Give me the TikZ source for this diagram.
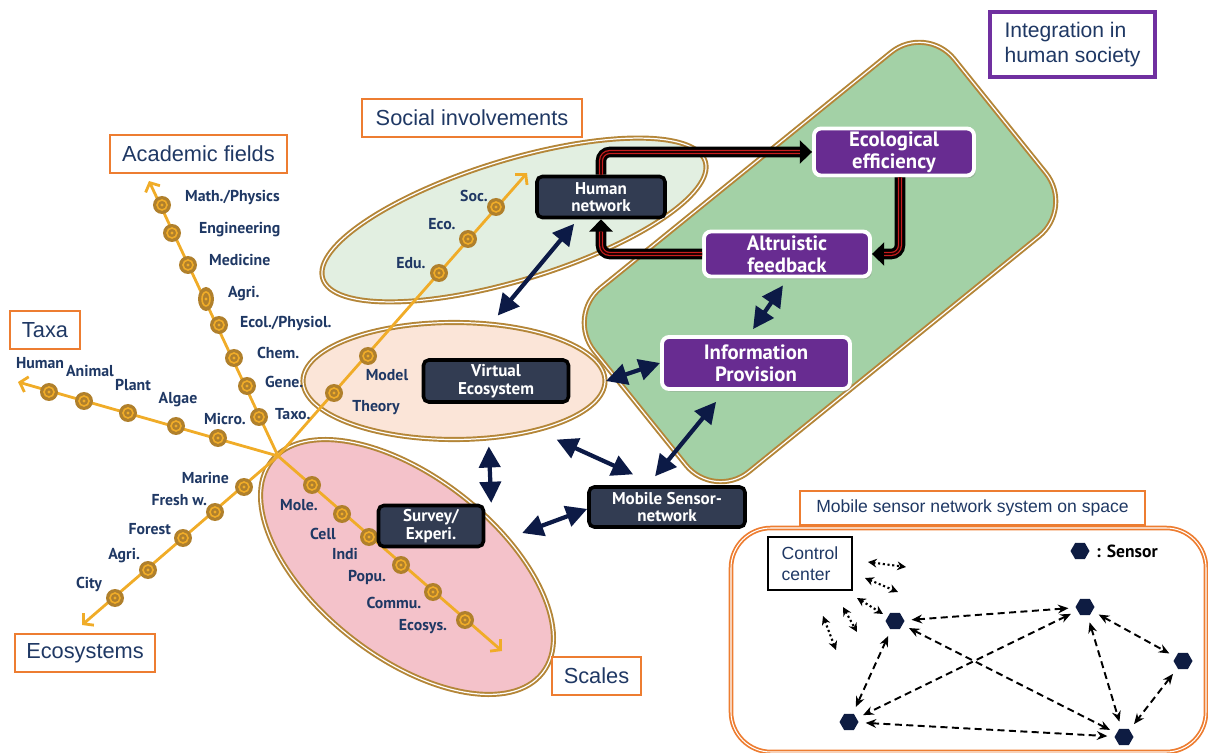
\documentclass[tikz,border=0pt]{standalone}
\usepackage{fontspec}
\setmainfont{Liberation Sans}
\newfontfamily\lblfont{PT Sans}
\usetikzlibrary{arrows.meta,shapes.geometric,shadows}

\definecolor{navytext}{RGB}{31,56,100}
\definecolor{axisorange}{RGB}{240,172,40}
\definecolor{beadbrown}{RGB}{176,128,44}
\definecolor{ringbrown}{RGB}{180,134,56}
\definecolor{labelorange}{RGB}{237,125,49}
\definecolor{socialfill}{RGB}{226,239,225}
\definecolor{virtfill}{RGB}{251,229,216}
\definecolor{scalefill}{RGB}{244,194,202}
\definecolor{greenfill}{RGB}{163,209,166}
\definecolor{boxnavy}{RGB}{50,60,82}
\definecolor{boxpurple}{RGB}{104,44,145}
\definecolor{arrownavy}{RGB}{12,26,70}
\definecolor{loopred}{RGB}{200,30,30}
\definecolor{intpurple}{RGB}{112,48,160}
\definecolor{sensornavy}{RGB}{14,28,66}

\newcommand\pxu{0.02cm} % one pixel of the original figure
\newcommand\looppath[1]{%
  \draw[loopouter] #1;
  \draw[loopinner] #1;
  \draw[loopcore] #1;}

\tikzset{
  bead/.pic={
    \fill[beadbrown] (0,0) circle [radius=9*\pxu];
    \draw[axisorange, line width=0.9pt] (0,0) circle [radius=5*\pxu];
    \fill[axisorange] (0,0) circle [radius=1.6*\pxu];
  },
  loopouter/.style={draw=black, line width=6pt, rounded corners=5pt,
    -{Triangle[length=7pt,width=13pt]}},
  loopinner/.style={draw=loopred, line width=2.4pt, rounded corners=5pt, shorten >=7pt},
  loopcore/.style={draw=black!85!red, line width=1pt, rounded corners=5pt, shorten >=7pt},
}

\begin{document}
\begin{tikzpicture}[x=0.02cm, y=-0.02cm,
  axisline/.style={draw=axisorange, line width=1.6pt, -{Straight Barb[length=4pt,width=9pt]}},
  lbl/.style={text=navytext, font=\lblfont\bfseries\fontsize{9}{10}\selectfont, inner sep=1pt},
  titlebox/.style={draw=labelorange, line width=1.5pt, fill=white, text=navytext,
    font=\fontsize{12.4}{14}\selectfont, minimum height=38*\pxu, inner sep=0pt},
  ringell/.style={ellipse, draw=ringbrown, line width=1.1pt, double=white,
    double distance=0.7pt, inner sep=0pt},
  darkbox/.style={draw=black, line width=2pt, fill=boxnavy, rounded corners=3pt,
    text=white, align=center, inner sep=0pt,
    font=\lblfont\bfseries\fontsize{9.7}{10}\selectfont},
  purplebox/.style={draw=white, line width=2.2pt, fill=boxpurple, rounded corners=4pt,
    text=white, align=center, inner sep=0pt,
    font=\lblfont\bfseries\fontsize{11.8}{12.5}\selectfont,
    drop shadow={opacity=0.35, shadow xshift=1pt, shadow yshift=-1.5pt}},
  bigarrow/.style={draw=arrownavy, line width=2.4pt,
    {Triangle[length=12pt,width=12pt]}-{Triangle[length=12pt,width=12pt]}},
  sensor/.style={regular polygon, regular polygon sides=6, fill=sensornavy,
    minimum size=19*\pxu, inner sep=0pt},
  netlink/.style={draw=black, line width=1.1pt, dash pattern=on 4pt off 2.5pt,
    {Stealth[length=6pt,width=5pt]}-{Stealth[length=6pt,width=5pt]},
    shorten <=4pt, shorten >=4pt},
  ctrllink/.style={draw=black, line width=1.2pt, dash pattern=on 1.2pt off 1.5pt,
    {Stealth[length=5pt,width=5pt]}-{Stealth[length=5pt,width=5pt]}}]

  \useasboundingbox (0,0) rectangle (1208,753);

  % ellipses of the three views
  \node[ringell, fill=socialfill, minimum width=400*\pxu, minimum height=120*\pxu,
    rotate=17] (socialell) at (514,220) {};
  \node[ringell, fill=virtfill, minimum width=302*\pxu, minimum height=117*\pxu]
    (virtell) at (454,381) {};
  \node[ringell, fill=scalefill, minimum width=344*\pxu, minimum height=180*\pxu,
    rotate=-38] (scaleell) at (407,567) {};

  % integration region
  \draw[fill=greenfill, draw=ringbrown, line width=1.1pt, double=white,
    double distance=0.7pt, rounded corners=0.9cm]
    (926,24) -- (1074,208) -- (714,500) -- (566,316) -- cycle;

  % axes
  \coordinate (hub) at (278,456);
  \draw[axisline] (hub) -- (149,181); % academic fields
  \draw[axisline] (hub) -- (18,382);  % taxa
  \draw[axisline] (hub) -- (82,625);  % ecosystems
  \draw[axisline] (hub) -- (502,651); % scales
  \draw[axisline] (hub) -- (527,173); % social

  % academic fields
  \foreach \bx/\by/\lx/\ly/\t [count=\i] in {162/205/183/197/{Math./Physics},
      172/233/197/230/Engineering, 188/265/207/260/Medicine,
      219/325/238/323/{Ecol./Physiol.}, 234/358/255/353/Chem.,
      247/386/263/382/Gene., 259/417/273/414/Taxo.} {
    \pic at (\bx,\by) {bead};
    \node[lbl, anchor=west] (acad\i) at (\lx,\ly) {\t};
  }
  \fill[beadbrown] (206,299) ellipse [x radius=8*\pxu, y radius=12*\pxu];
  \draw[axisorange, line width=0.9pt] (206,299) ellipse [x radius=4*\pxu, y radius=7*\pxu];
  \fill[axisorange] (206,299) circle [radius=1.6*\pxu];
  \node[lbl, anchor=west] (acadagri) at (226,294) {Agri.};

  % taxa
  \foreach \bx/\by/\lx/\ly/\t [count=\i] in {49/392/40/363/Human, 84/401/90/371/Animal,
      128/413/133/385/Plant, 176/426/178/400/Algae, 218/438/225/419/Micro.} {
    \pic at (\bx,\by) {bead};
    \node[lbl] (taxa\i) at (\lx,\ly) {\t};
  }

  % ecosystems
  \foreach \bx/\by/\lx/\ly/\t [count=\i] in {244/487/231/478/Marine,
      215/512/209/500/{Fresh w.}, 183/538/173/529/Forest, 148/570/142/556/Agri.,
      115/598/104/584/City} {
    \pic at (\bx,\by) {bead};
    \node[lbl, anchor=east] (ecos\i) at (\lx,\ly) {\t};
  }

  % scales
  \foreach \bx/\by/\lx/\ly/\t [count=\i] in {312/485/299/505/Mole., 342/514/323/534/Cell,
      369/537/345/554/Indi, 401/565/367/577/Popu., 433/592/394/603/Commu.,
      465/620/423/627/Ecosys.} {
    \pic at (\bx,\by) {bead};
    \node[lbl] (scale\i) at (\lx,\ly) {\t};
  }

  % social involvements
  \foreach \bx/\by/\lx/\ly/\t [count=\i] in {334/393/376/408/Theory, 368/356/387/375/Model,
      439/273/411/263/Edu., 468/239/442/224/Eco., 496/207/474/196/Soc.} {
    \pic at (\bx,\by) {bead};
    \node[lbl] (social\i) at (\lx,\ly) {\t};
  }

  % boxes
  \node[darkbox, minimum width=128*\pxu, minimum height=41*\pxu] (human) at (601,197)
    {Human\\network};
  \node[darkbox, minimum width=145*\pxu, minimum height=42*\pxu] (virtbox) at (496,381)
    {Virtual\\Ecosystem};
  \node[darkbox, minimum width=105*\pxu, minimum height=41*\pxu] (survey) at (431,526)
    {Survey/\\Experi.};
  \node[darkbox, minimum width=156*\pxu, minimum height=40*\pxu] (mobile) at (667,507)
    {Mobile Sensor-\\network};
  \node[purplebox, minimum width=160*\pxu, minimum height=47*\pxu] (eco) at (894,152)
    {Ecological\\efficiency};
  \node[purplebox, minimum width=166*\pxu, minimum height=45*\pxu] (alt) at (787,254)
    {Altruistic\\feedback};
  \node[purplebox, minimum width=188*\pxu, minimum height=52*\pxu] (info) at (756,363)
    {Information\\Provision};

  % links between views
  \draw[bigarrow] ([xshift=-15.3pt,yshift=-2.6pt]human.south)
    -- ([xshift=24.9pt,yshift=3.4pt]virtell.north);
  \draw[bigarrow] (virtell.east) -- (info.west);
  \draw[bigarrow] ([xshift=-2.3pt,yshift=-4pt]alt.south)
    -- ([xshift=-1.7pt,yshift=3.4pt]info.north);
  \draw[bigarrow] ([xshift=-22.7pt,yshift=-6.2pt]info.south)
    -- ([xshift=-6.8pt,yshift=5.1pt]mobile.north);
  \draw[bigarrow] ([xshift=58.4pt,yshift=0.5pt]virtell.south)
    -- ([xshift=-19.3pt,yshift=6.2pt]mobile.north);
  \draw[bigarrow] ([xshift=19.8pt,yshift=-3.4pt]virtell.south)
    -- ([xshift=3.4pt,yshift=0.5pt]survey.north east);
  \draw[bigarrow] ([xshift=21pt,yshift=-4pt]survey.east)
    -- ([yshift=-1.1pt]mobile.west);

  % feedback loop
  \looppath{(human.north) |- (eco.west)}
  \looppath{([xshift=3.4pt]eco.south) |- (alt.east)}
  \looppath{(alt.west) -| (human.south)}

  % titles
  \node[titlebox, minimum width=177*\pxu] (acadtitle) at (198.5,154) {Academic fields};
  \node[titlebox, minimum width=70*\pxu] (taxatitle) at (45,330) {Taxa};
  \node[titlebox, minimum width=140*\pxu] (ecotitle) at (85,653) {Ecosystems};
  \node[titlebox, minimum width=220*\pxu] (socialtitle) at (472,118) {Social involvements};
  \node[titlebox, minimum width=89*\pxu] (scaletitle) at (596.5,676) {Scales};
  \node[titlebox, draw=intpurple, line width=2pt, minimum width=165*\pxu,
    minimum height=65*\pxu, align=left, font=\fontsize{12}{14}\selectfont]
    (integration) at (1072.5,44.5) {Integration in\\human society};

  % sensor network panel
  \draw[draw=labelorange, line width=1pt, double=white, double distance=0.6pt,
    rounded corners=0.8cm] (731,528) rectangle (1206,752);
  \node[titlebox, minimum width=345*\pxu, minimum height=34*\pxu,
    font=\fontsize{10}{12}\selectfont] (paneltitle) at (972.5,508)
    {Mobile sensor network system on space};
  \node[draw=black, line width=0.9pt, minimum width=84*\pxu, minimum height=53*\pxu,
    align=left, text=navytext, font=\fontsize{10}{12}\selectfont, inner sep=0pt]
    (control) at (810,563.5) {Control\\center};
  \node[sensor] (legendsensor) at (1080,551) {};
  \node[anchor=west, font=\lblfont\bfseries\fontsize{10}{12}\selectfont]
    (legendtext) at (1090,551) {: Sensor};

  \node[sensor] (s1) at (895,621) {};
  \node[sensor] (s2) at (1085,607) {};
  \node[sensor] (s3) at (1183,661) {};
  \node[sensor] (s4) at (849,722) {};
  \node[sensor] (s5) at (1124,737) {};
  \foreach \a/\b in {s1/s2, s1/s4, s1/s5, s2/s4, s2/s5, s2/s3, s3/s5, s4/s5}
    \draw[netlink] (\a) -- (\b);

  \coordinate (cc1a) at (868,562); \coordinate (cc1b) at (906,567);
  \coordinate (cc2a) at (865,578); \coordinate (cc2b) at (898,592);
  \coordinate (cc3a) at (857,598); \coordinate (cc3b) at (883,614);
  \coordinate (cc4a) at (843,607); \coordinate (cc4b) at (857,632);
  \coordinate (cc5a) at (823,616); \coordinate (cc5b) at (836,650);
  \foreach \i in {1,...,5}
    \draw[ctrllink] (cc\i a) -- (cc\i b);
\end{tikzpicture}
\end{document}
